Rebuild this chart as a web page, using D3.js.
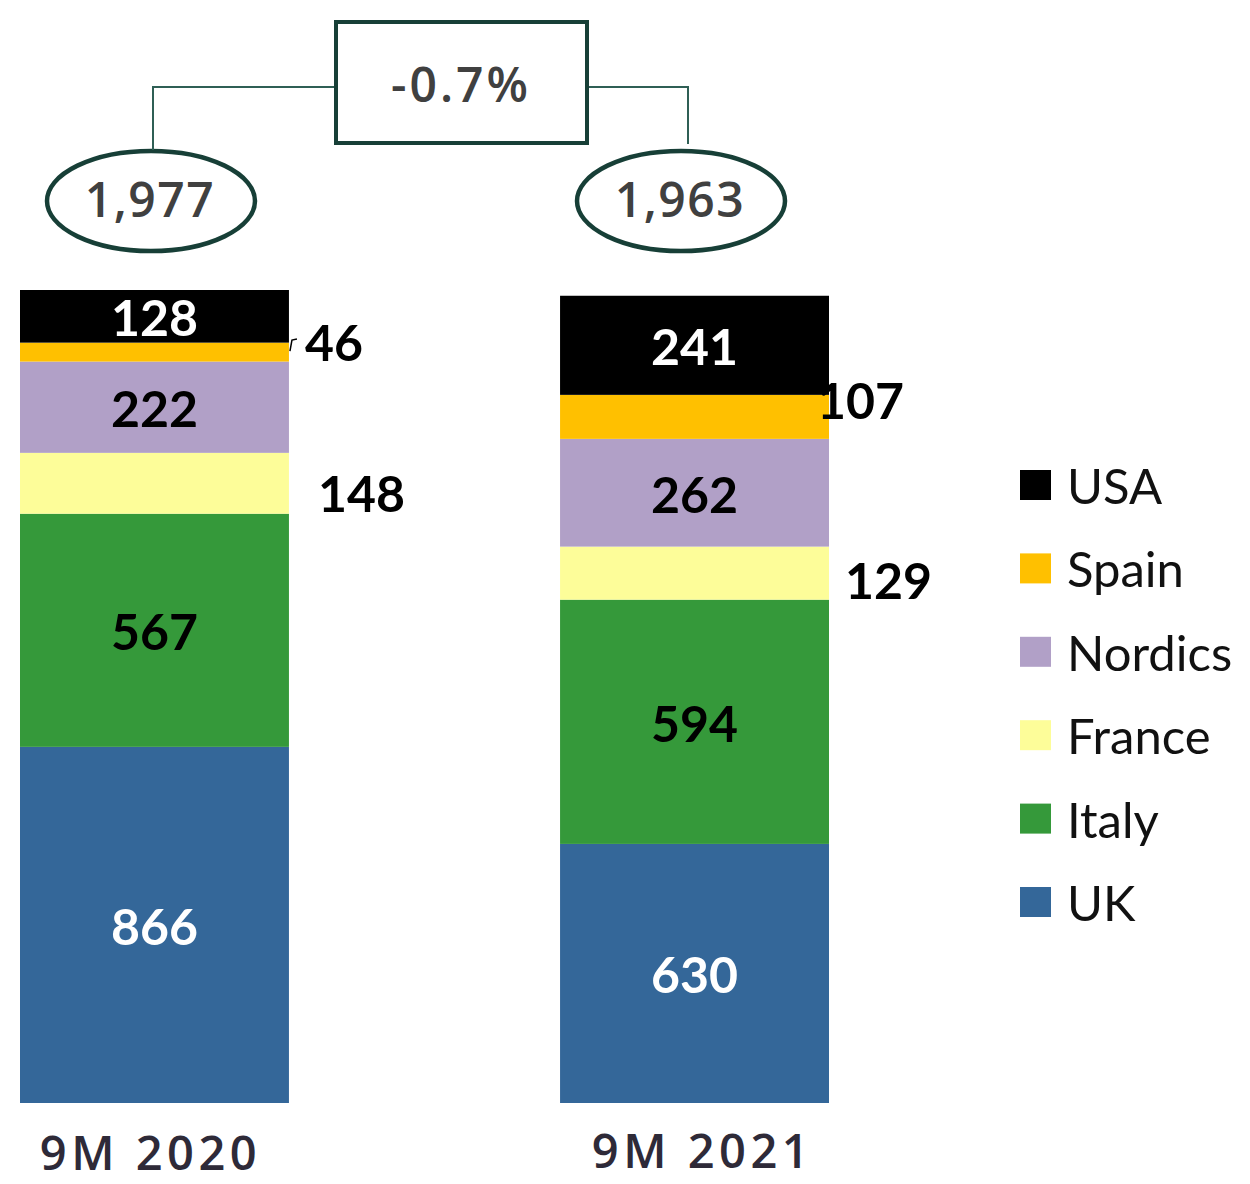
<!DOCTYPE html>
<html><head><meta charset="utf-8">
<script src="https://cdn.jsdelivr.net/npm/d3@7"></script>
<style>body{margin:0;background:#fff}svg{display:block}</style>
</head><body><svg id="c" width="1250" height="1184"></svg>
<script>
const periods = ["9M 2020", "9M 2021"];
const countries = ["UK", "Italy", "France", "Nordics", "Spain", "USA"];
const values2020 = [866, 567, 148, 222, 46, 128];
const values2021 = [630, 594, 129, 262, 107, 241];
const totals = [1977, 1963];
const totalLabels = ["1,977", "1,963"];
const changeLabel = "-0.7%";
const colors = ["#346799", "#35993a", "#fdfd99", "#b1a0c7", "#ffc000", "#000000"];
const legendOrder = ["USA", "Spain", "Nordics", "France", "Italy", "UK"];

const svg = d3.select("#c");
const x = d3.scaleBand().domain(periods).range([20, 829]).paddingInner(0.502).paddingOuter(0);
const y = d3.scaleLinear().domain([0, 1977]).range([1103, 290]);
const color = d3.scaleOrdinal().domain(countries).range(colors);

const table = periods.map((p, i) => {
  const vals = i === 0 ? values2020 : values2021;
  const o = {period: p};
  countries.forEach((c, j) => o[c] = vals[j]);
  return o;
});
const series = d3.stack().keys(countries)(table);

// outside label offsets (style, not data)
const outside = {
  "9M 2020|Spain": {dx: 16, dy: -10},
  "9M 2020|France": {dx: 29, dy: 10},
  "9M 2021|Spain": {dx: -12, dy: -17},
  "9M 2021|France": {dx: 16, dy: 7}
};
const whiteText = new Set(["UK", "USA"]);

const g = svg.append("g");
series.forEach(s => {
  s.forEach(d => {
    const p = d.data.period;
    g.append("rect")
      .attr("x", x(p)).attr("width", x.bandwidth())
      .attr("y", y(d[1])).attr("height", y(d[0]) - y(d[1]))
      .attr("fill", color(s.key));
    const key = p + "|" + s.key;
    const mid = (y(d[0]) + y(d[1])) / 2;
    const val = d[1] - d[0];
    if (outside[key]) {
      const o = outside[key];
      g.append("text")
        .attr("x", x(p) + x.bandwidth() + o.dx).attr("y", mid + o.dy)
        .attr("dominant-baseline", "central")
        .attr("font-family", "Lato, sans-serif").attr("font-weight", 700)
        .attr("font-size", 50).attr("fill", "#000").text(val);
    } else {
      g.append("text")
        .attr("x", x(p) + x.bandwidth() / 2).attr("y", mid + 1)
        .attr("text-anchor", "middle").attr("dominant-baseline", "central")
        .attr("font-family", "Lato, sans-serif").attr("font-weight", 700)
        .attr("font-size", 50).attr("fill", whiteText.has(s.key) ? "#fff" : "#000").text(val);
    }
  });
});
// tiny leader for 46
{
  const d = series[countries.indexOf("Spain")][0];
  const mid = (y(d[0]) + y(d[1])) / 2;
  const xr = x(periods[0]) + x.bandwidth();
  g.append("path")
    .attr("d", `M${xr + 1},${mid - 1} L${xr + 3},${mid - 12} L${xr + 8},${mid - 13}`)
    .attr("fill", "none").attr("stroke", "#000").attr("stroke-width", 1.5);
}

// x labels
svg.selectAll(".xl").data(periods).enter().append("text")
  .attr("x", (d, i) => x(d) + x.bandwidth() / 2 + (i === 0 ? -4 : 8))
  .attr("y", (d, i) => i === 0 ? 1170 : 1168)
  .attr("text-anchor", "middle")
  .attr("font-family", "'Open Sans', sans-serif").attr("font-weight", 600)
  .attr("font-size", 47).attr("letter-spacing", 4.5).attr("fill", "#2e2a38")
  .text(d => d);

// totals ellipses
const dark = "#173f37";
const ellipseX = [151, 681];
periods.forEach((p, i) => {
  const cx = ellipseX[i];
  svg.append("ellipse").attr("cx", cx).attr("cy", 201).attr("rx", 104).attr("ry", 50)
    .attr("fill", "#fff").attr("stroke", dark).attr("stroke-width", 4.5);
  svg.append("text").attr("x", cx - 1).attr("y", 198)
    .attr("text-anchor", "middle").attr("dominant-baseline", "central")
    .attr("font-family", "'Open Sans', sans-serif").attr("font-weight", 600)
    .attr("font-size", 48).attr("letter-spacing", 1.5).attr("fill", "#404040")
    .text(totalLabels[i]);
});
// connectors
svg.append("path").attr("d", `M153,150 V87 H336`).attr("fill", "none").attr("stroke", "#2f5f55").attr("stroke-width", 2);
svg.append("path").attr("d", `M587,87 H688 V144`).attr("fill", "none").attr("stroke", "#2f5f55").attr("stroke-width", 2);
svg.append("rect").attr("x", 336).attr("y", 22).attr("width", 251).attr("height", 121)
  .attr("fill", "#fff").attr("stroke", dark).attr("stroke-width", 4);
svg.append("text").attr("x", 461).attr("y", 83)
  .attr("text-anchor", "middle").attr("dominant-baseline", "central")
  .attr("font-family", "'Open Sans', sans-serif").attr("font-weight", 600)
  .attr("font-size", 48).attr("letter-spacing", 3).attr("fill", "#404040")
  .text(changeLabel);

// legend
const lg = svg.append("g");
legendOrder.forEach((c, i) => {
  const cy = 485 + i * 83.4;
  lg.append("rect").attr("x", 1020).attr("y", cy - 15).attr("width", 31).attr("height", 30).attr("fill", color(c));
  lg.append("text").attr("x", 1067).attr("y", cy)
    .attr("dominant-baseline", "central")
    .attr("font-family", "Lato, sans-serif").attr("font-size", 49).attr("fill", "#111")
    .text(c);
});
</script></body></html>
